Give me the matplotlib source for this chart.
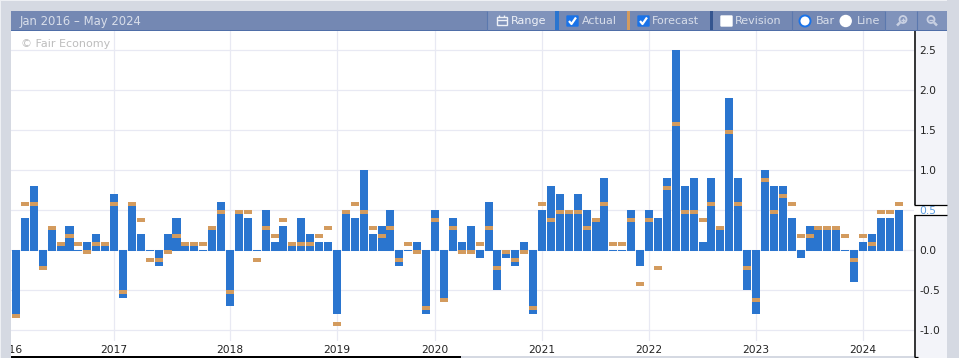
import matplotlib
matplotlib.use("Agg")
import matplotlib.pyplot as plt
from matplotlib.patches import Rectangle, FancyBboxPatch, Ellipse
from matplotlib.lines import Line2D

W, H = 959, 358
plt.rcParams['font.family'] = ['DejaVu Sans']

actual = [-0.8, 0.4, 0.8, -0.2, 0.3, 0.1, 0.3, 0.0, 0.1, 0.2, 0.1, 0.7,
          -0.6, 0.6, 0.2, 0.0, -0.2, 0.2, 0.4, 0.1, 0.1, 0.0, 0.3, 0.6,
          -0.7, 0.5, 0.4, 0.0, 0.5, 0.1, 0.3, 0.1, 0.4, 0.2, 0.1, 0.1,
          -0.8, 0.5, 0.4, 1.0, 0.2, 0.3, 0.5, -0.2, 0.0, 0.1, -0.8,
          0.5, -0.6, 0.4, 0.1, 0.3, -0.1, 0.6, -0.5, -0.1, -0.2, 0.1, -0.8,
          0.5, 0.8, 0.7, 0.5, 0.7, 0.5, 0.4, 0.9, 0.0, 0.0, 0.5, -0.2,
          0.5, 0.4, 0.9, 2.5, 0.8, 0.9, 0.1, 0.9, 0.3, 1.9, 0.9, -0.5,
          -0.8, 1.0, 0.8, 0.8, 0.4, -0.1, 0.3, 0.3, 0.3, 0.3, 0.0, -0.4,
          0.1, 0.2, 0.4, 0.4, 0.5]
forecast = [-0.8, 0.6, 0.6, -0.2, 0.3, 0.1, 0.2, 0.1, 0.0, 0.1, 0.1, 0.6,
            -0.5, 0.6, 0.4, -0.1, -0.1, 0.0, 0.2, 0.1, 0.1, 0.1, 0.3, 0.5,
            -0.5, 0.5, 0.5, -0.1, 0.3, 0.2, 0.4, 0.1, 0.1, 0.1, 0.2, 0.3,
            -0.9, 0.5, 0.6, 0.5, 0.3, 0.2, 0.3, -0.1, 0.1, 0.0, -0.7,
            0.4, -0.6, 0.3, 0.0, 0.0, 0.1, 0.3, -0.2, 0.0, -0.1, 0.0, -0.7,
            0.6, 0.4, 0.5, 0.5, 0.5, 0.3, 0.4, 0.6, 0.1, 0.1, 0.4, -0.4,
            0.4, -0.2, 0.8, 1.6, 0.5, 0.5, 0.4, 0.6, 0.3, 1.5, 0.6, -0.2,
            -0.6, 0.9, 0.5, 0.7, 0.6, 0.2, 0.2, 0.3, 0.3, 0.3, 0.2, -0.1,
            0.2, 0.1, 0.5, 0.5, 0.6]
year_ticks = [11, 24, 36, 47, 59, 71, 83, 95]
year_labels = ['2017', '2018', '2019', '2020', '2021', '2022', '2023', '2024']
first_year_tick = -0.83
first_year_label = '2016'
y_ticks = [-1.0, -0.5, 0.0, 0.5, 1.0, 1.5, 2.0, 2.5]
y_labels = ['-1.0', '-0.5', '0.0', '0.5', '1.0', '1.5', '2.0', '2.5']
header_title = 'Jan 2016 – May 2024'

BG = '#d5d9e2'
HDR = '#7488b3'
HDR2 = '#8093bb'
HTXT = '#d8deea'
GRID = '#e8e9f3'
BLUE = '#2a75cf'
ORANGE = '#d39b5e'
TXT = '#222222'
FS = 7.7


def rect(x0, y0, x1, y1, color, z=-1):
    fig.add_artist(Rectangle((x0 / W, 1 - y1 / H), (x1 - x0) / W, (y1 - y0) / H,
                             transform=fig.transFigure, facecolor=color,
                             edgecolor='none', zorder=z))


def line(xs, ys, color, lw=0.72, z=6):
    fig.add_artist(Line2D([x / W for x in xs], [1 - y / H for y in ys],
                          transform=fig.transFigure, color=color, lw=lw,
                          zorder=z, solid_capstyle='butt'))


def label(x, y, s, color=HTXT, size=8.0, ha='left', weight='normal', z=7):
    fig.text(x / W, 1 - y / H, s, color=color, fontsize=size, ha=ha,
             va='center', fontweight=weight, zorder=z)


fig = plt.figure(figsize=(W / 100, H / 100), dpi=100, facecolor=BG)

# panels behind the axes
rect(11, 31, 914, 356, 'white')
rect(914, 31, 947, 358, '#f3f4f9')
rect(914, 204.5, 947, 215, 'white')

ax_l, ax_r, ax_t, ax_b = 11, 914, 31, 341
ax = fig.add_axes([ax_l / W, 1 - ax_b / H, (ax_r - ax_l) / W, (ax_b - ax_t) / H])
ax.set_facecolor('white')
step = 8.916
ax.set_xlim((ax_l - 16) / step, (ax_r - 16) / step)
ax.set_ylim((250 - ax_b) / 80, (250 - ax_t) / 80)
for s in ax.spines.values():
    s.set_visible(False)
ax.set_axisbelow(True)
ax.grid(True, color=GRID, lw=0.9)

xs = list(range(len(actual)))
base = [-0.0125 if v >= 0 else 0 for v in actual]
ax.bar(xs, [v - b for v, b in zip(actual, base)], bottom=base, width=0.9,
       color=BLUE, linewidth=0)
mark = 0.05
ax.bar(xs, [mark] * len(forecast), bottom=[v - mark for v in forecast], width=0.9,
       color=ORANGE, linewidth=0)

ax.set_xticks(year_ticks, year_labels, fontsize=FS, color=TXT)
ax.yaxis.tick_right()
ax.set_yticks(y_ticks, y_labels, fontsize=FS, color=TXT)
ax.tick_params(axis='both', length=0)
ax.tick_params(axis='x', pad=3.2)
ax.tick_params(axis='y', pad=4)
ax.get_yticklabels()[y_labels.index('0.5')].set_color('#5a9be0')
ax.text(first_year_tick, -0.0275, first_year_label, transform=ax.get_xaxis_transform(),
        ha='center', va='center', fontsize=FS, color=TXT, clip_on=False)
ax.text((21 - 16) / step, (250 - 44) / 80, '© Fair Economy', color='#bdbdbd',
        fontsize=8.0, va='center', ha='left')

# frame on top of the axes
rect(0, 0, 11, H, BG, z=5)
rect(0, 0, 1, H, '#eef0f4', z=5)
rect(0, 0, W, 1, '#eef0f4', z=5)
rect(11, 356, 461, 358, 'black', z=6)
rect(461, 356, 914, 358, BG, z=6)
line([914.5, 914.5], [31, 204.5], 'black', lw=1.1)
line([914.5, 914.5], [215, 357], 'black', lw=1.1)
line([914, 947], [204.5, 204.5], 'black', lw=0.9)
line([914, 947], [215, 215], 'black', lw=0.9)
line([914, 918], [356.5, 356.5], 'black', lw=0.9)
rect(947, 0, W, H, BG, z=5)

# header bar
rect(11, 11, 947, 30, HDR, z=5)
rect(11, 30, 947, 31, '#4f6ea8', z=6)
rect(487, 11, 555, 30, HDR2, z=5)
rect(885, 11, 947, 30, HDR2, z=5)
for x in [487, 792, 885, 917]:
    line([x, x], [11, 30], '#5b78ae', lw=0.8)
label(20, 21, header_title, size=8.4)
# range button
fig.add_artist(Rectangle((496.5 / W, 1 - 25 / H), 10.5 / W, 8 / H, transform=fig.transFigure,
                         facecolor='none', edgecolor='#eef1f7', lw=1, zorder=7))
line([496.5, 507], [20, 20], '#eef1f7', lw=1, z=7)
line([499, 499], [15, 17], '#eef1f7', lw=1, z=7)
line([504, 504], [15, 17], '#eef1f7', lw=1, z=7)
label(511, 21, 'Range', color='#eef1f7', size=8.0)
# legend colour bars
rect(555, 11, 559, 30, BLUE, z=6)
rect(627, 11, 630, 30, ORANGE, z=6)
rect(710, 11, 713, 30, '#35558f', z=6)


def checkbox(x0, color):
    fig.add_artist(FancyBboxPatch(((x0 + 1) / W, 1 - 26 / H), 11 / W, 10 / H,
                                  boxstyle='round,pad=0', transform=fig.transFigure,
                                  facecolor=color, edgecolor=color, lw=1, zorder=7))


checkbox(566, '#1a73e8')
line([569, 571.5, 576], [21, 24, 17.5], 'white', lw=1.6, z=8)
label(582, 21, 'Actual')
checkbox(637, '#1a73e8')
line([640, 642.5, 647], [21, 24, 17.5], 'white', lw=1.6, z=8)
label(652, 21, 'Forecast')
checkbox(720, 'white')
label(735, 21, 'Revision')

# bar / line radios
for cx, edge, lw in [(805, '#1a73e8', 1.4), (845.7, 'white', 1.0)]:
    fig.add_artist(Ellipse((cx / W, 1 - 21 / H), 11 / W, 11 / H,
                           transform=fig.transFigure, facecolor='white',
                           edgecolor=edge, lw=lw, zorder=7))
label(816, 21, 'Bar')
label(857, 21, 'Line')

# zoom buttons
ICON = '#c8d0e2'
fig.add_artist(Ellipse((903 / W, 1 - 19.5 / H), 7 / W, 7 / H, transform=fig.transFigure,
                       facecolor='none', edgecolor=ICON, lw=1.3, zorder=7))
line([900, 897], [22.5, 25.5], ICON, lw=1.8, z=7)
line([901, 905], [19.5, 19.5], ICON, lw=1, z=7)
line([903, 903], [17.5, 21.5], ICON, lw=1, z=7)
fig.add_artist(Ellipse((931 / W, 1 - 19.5 / H), 7 / W, 7 / H, transform=fig.transFigure,
                       facecolor='none', edgecolor=ICON, lw=1.3, zorder=7))
line([934, 937], [22.5, 25.5], ICON, lw=1.8, z=7)
line([929, 933], [19.5, 19.5], ICON, lw=1, z=7)

fig.savefig('out.png', dpi=100, facecolor=fig.get_facecolor())
